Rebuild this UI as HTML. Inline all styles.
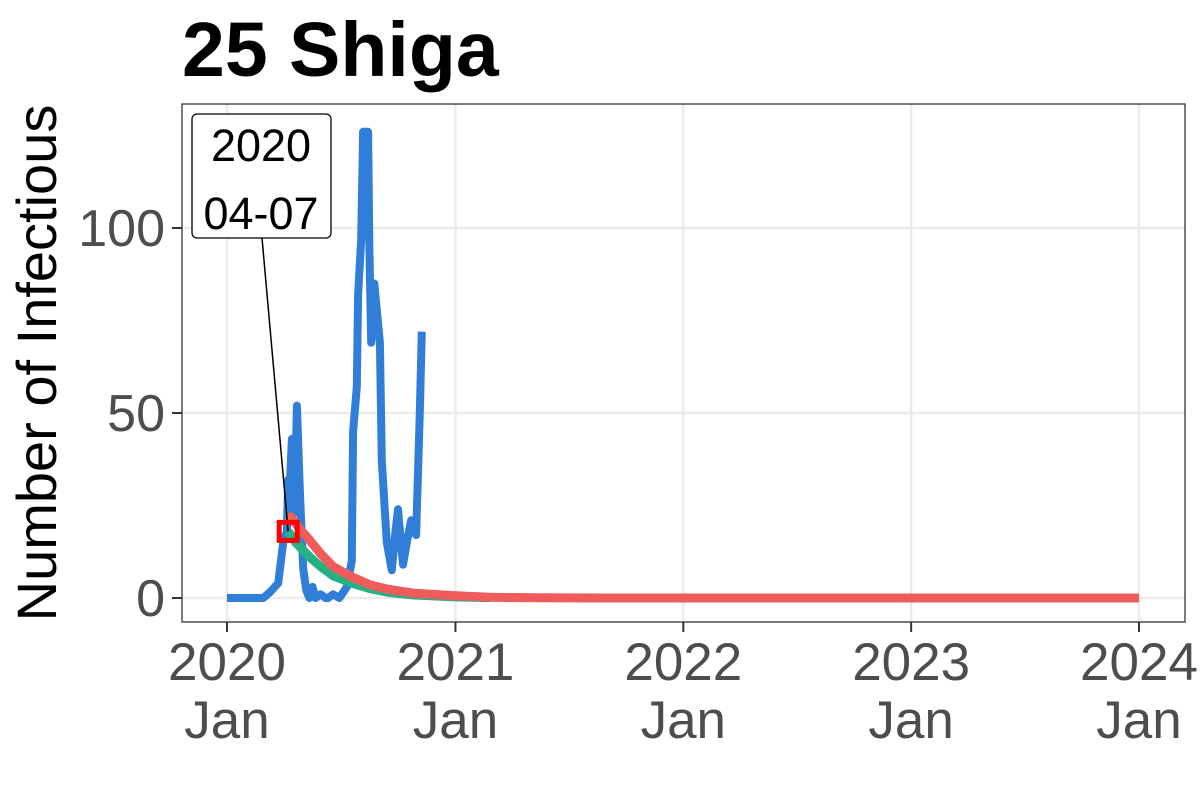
<!DOCTYPE html>
<html><head><meta charset="utf-8"><style>
html,body{margin:0;padding:0;background:#fff;}
svg{display:block;font-family:"Liberation Sans",Arial,sans-serif;}
</style></head><body>
<svg id="chart" width="1200" height="800" viewBox="0 0 1200 800">
<rect width="1200" height="800" fill="#fff"/>
<text x="182" y="76" font-size="77" font-weight="bold" fill="#000">25 Shiga</text>
<g id="grid"></g>
<g id="series"></g>
<rect x="182" y="104" width="1003" height="518" fill="none" stroke="#333" stroke-width="1.3"/>
<g id="axes"></g>
<text transform="translate(56,363) rotate(-90)" text-anchor="middle" font-size="56" fill="#000">Number of Infectious</text>
<g id="annot"></g>
</svg>
<script>
const blueDays=[0,58,69,82,90,96,98,100,104,108,112,117,122,127,132,137,142,150,158,162,170,180,192,200,202,208,210,215,218,226,228,231,236,245,248,256,264,270,274,282,288,295,303,309,312];
const blueVals=[0,0,1.6,4,15,18,32,28,43,23,52,28,8,2,0,3,0,1,0,0,1,0,3,10,45,57,82,97,126,126,96,69,85,69,37,15,7.5,18,24,9,15,21,17,51,72];
const greenDays=[98,110,133,150,170,200,230,260,300,366,421];
const greenVals=[18,15,11,8.5,6,4,2.5,1.5,0.8,0.3,0.1];
const redDays=[98,102,115,133,150,170,200,230,260,300,366,420,500,600,1461];
const redVals=[20,22,19,15.5,12,8.5,5.7,3.5,2.3,1.3,0.6,0.2,0.05,0,0];
const yTicks=[0,50,100];
const xTickDays=[0,366,731,1096,1461];
const xTickYears=["2020","2021","2022","2023","2024"];
const annotDay=98, annotVal=18;

const NS="http://www.w3.org/2000/svg";
const X=d=>227+d*(912/1461);
const Y=v=>598-v*3.7;
function mk(tag,attrs,parent){const e=document.createElementNS(NS,tag);for(const k in attrs)e.setAttribute(k,attrs[k]);parent.appendChild(e);return e;}
const grid=document.getElementById('grid'),axes=document.getElementById('axes'),series=document.getElementById('series'),annot=document.getElementById('annot');
yTicks.forEach(v=>{const l=mk('line',{x1:182,x2:1185,y1:Y(v),y2:Y(v),stroke:'#ebebeb','stroke-width':2.4},grid);


const t=mk('line',{x1:172,x2:182,y1:Y(v),y2:Y(v),stroke:'#333','stroke-width':2},axes);


const tx=mk('text',{x:165,y:Y(v)+18,'text-anchor':'end','font-size':52,fill:'#4d4d4d'},axes);tx.textContent=v;

});
xTickDays.forEach((d,i)=>{const l=mk('line',{x1:X(d),x2:X(d),y1:104,y2:622,stroke:'#ebebeb','stroke-width':2.4},grid);


const t=mk('line',{x1:X(d),x2:X(d),y1:622,y2:632,stroke:'#333','stroke-width':2},axes);


const a=mk('text',{x:X(d),y:680,'text-anchor':'middle','font-size':53,fill:'#4d4d4d'},axes);a.textContent=xTickYears[i];


const b=mk('text',{x:X(d),y:738,'text-anchor':'middle','font-size':53,fill:'#4d4d4d'},axes);b.textContent='Jan';

});
function line(days,vals,color,w,name){const p=days.map((d,i)=>X(d).toFixed(1)+','+Y(vals[i]).toFixed(1)).join(' ');
const e=mk('polyline',{points:p,fill:'none',stroke:color,'stroke-width':w,'stroke-linejoin':'round','stroke-linecap':'butt'},series);

}
line(blueDays,blueVals,'#317ed9',8,'observed-line');
line(greenDays,greenVals,'#27b081',9,'forecast-green-line');
line(redDays,redVals,'#f05c5c',9,'forecast-red-line');
const ax=X(annotDay),ay=Y(annotVal);
const ld=mk('line',{x1:262,y1:238,x2:ax,y2:ay,stroke:'#000','stroke-width':1.5},annot);


const bx=mk('rect',{x:192,y:114,width:139,height:124,rx:5,fill:'#fff',stroke:'#000','stroke-width':1.3},annot);


const t1=mk('text',{x:261,y:161,'text-anchor':'middle','font-size':45,fill:'#000'},annot);t1.textContent='2020';


const t2=mk('text',{x:261,y:229,'text-anchor':'middle','font-size':45,fill:'#000'},annot);t2.textContent='04-07';


const mkr=mk('rect',{x:ax-9,y:ay-9,width:18,height:18,fill:'none',stroke:'#ff0000','stroke-width':5},annot);


</script>
</body></html>
